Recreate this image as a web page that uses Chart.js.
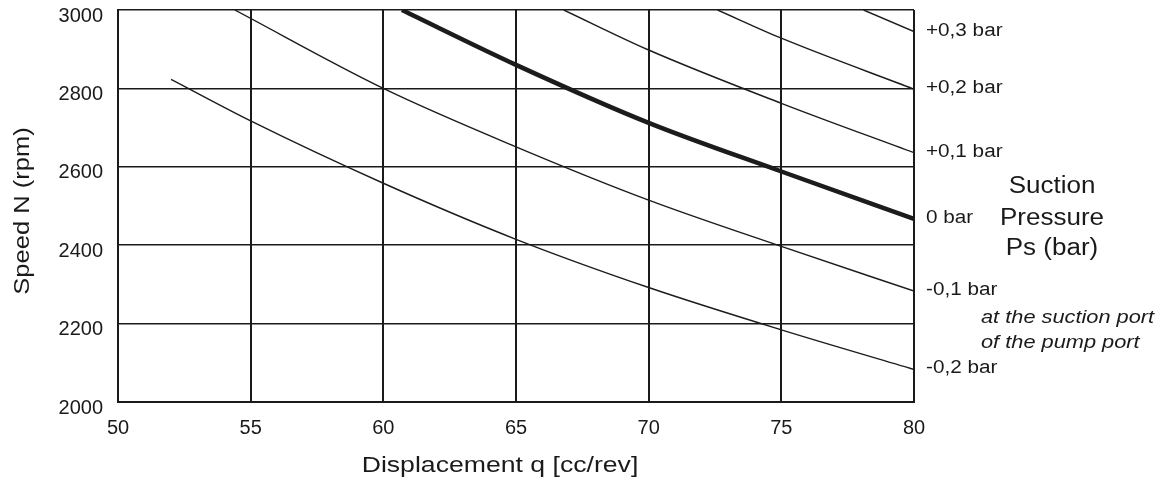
<!DOCTYPE html>
<html>
<head>
<meta charset="utf-8">
<script src="https://cdn.jsdelivr.net/npm/chart.js@4"></script>
<style>
  body { margin: 0; background: #fff; }
  #wrap { width: 1162px; height: 484px; position: relative; }
</style>
</head>
<body>
<div id="wrap"><canvas id="speed_chart"></canvas></div>
<script>
// Speed N vs displacement q, one curve per suction pressure

const ctx_speed = document.getElementById("speed_chart").getContext("2d");

const xMin = 50, xMax = 80, xStep = 5;
const yMin = 2000, yMax = 3000, yStep = 200;

const pressureLabels = ['-0,2 bar', '-0,1 bar', '0 bar', '+0,1 bar', '+0,2 bar', '+0,3 bar'];

const qM02 = [52.0, 55, 60, 65, 70, 75, 80];
const nM02 = [2823, 2717, 2558, 2415, 2292, 2184, 2083];
const qM01 = [54.4, 60, 65, 70, 75, 80];
const nM01 = [3000, 2800, 2651, 2515, 2397, 2283];
const q00  = [60.7, 65, 70, 75, 80];
const n00  = [3000, 2860, 2712, 2588, 2467];
const qP01 = [66.8, 70, 75, 80];
const nP01 = [3000, 2898, 2762, 2636];
const qP02 = [72.6, 75, 80];
const nP02 = [3000, 2928, 2798];
const qP03 = [78.1, 80];
const nP03 = [3000, 2945];

const curveQ = [qM02, qM01, q00, qP01, qP02, qP03];
const curveN = [nM02, nM01, n00, nP01, nP02, nP03];

const FONT = "'Liberation Sans', Arial, Helvetica, sans-serif";
Chart.defaults.font.family = FONT;
Chart.defaults.color = '#1a1a1a';

let datasets = [];
for (let i = 0; i < curveQ.length; i++) {
    datasets.push({
        label: pressureLabels[i],
        data: curveQ[i].map((q, j) => ({ x: q, y: curveN[i][j] })),
        borderColor: '#1c1c1c',
        borderWidth: pressureLabels[i] == '0 bar' ? 4.5 : 1.4,
        pointRadius: 0,
        fill: false,
        cubicInterpolationMode: 'monotone',
    });
}

// stretched text helper (the original lettering is wide)
function wideText(ctx, text, x, y, sx, align) {
    ctx.save();
    ctx.translate(x, y);
    ctx.scale(sx, 1);
    ctx.textAlign = align;
    ctx.fillText(text, 0, 0);
    ctx.restore();
}

const sideText = {
    id: 'sideText',
    afterDraw(chart) {
        const ctx = chart.ctx;
        const area = chart.chartArea;
        const ys = chart.scales.y;
        ctx.save();
        ctx.fillStyle = '#1a1a1a';

        // pressure labels at the end of each curve
        ctx.font = "18px " + FONT;
        ctx.textBaseline = 'middle';
        for (let i = 0; i < curveN.length; i++) {
            let last = curveN[i][curveN[i].length - 1];
            wideText(ctx, pressureLabels[i], area.right + 12, ys.getPixelForValue(last) - 1, 1.15, 'left');
        }

        ctx.font = "23px " + FONT;
        wideText(ctx, 'Suction', 1052, 187, 1.13, 'center');
        wideText(ctx, 'Pressure', 1052, 218.5, 1.13, 'center');
        wideText(ctx, 'Ps (bar)', 1052, 248.5, 1.13, 'center');

        ctx.font = "italic 18px " + FONT;
        wideText(ctx, 'at the suction port', 981, 318, 1.21, 'left');
        wideText(ctx, 'of the pump port', 981, 343, 1.21, 'left');

        // axis titles
        ctx.font = "22px " + FONT;
        ctx.textBaseline = 'alphabetic';
        wideText(ctx, 'Displacement q [cc/rev]', 500, 471.5, 1.21, 'center');

        ctx.save();
        ctx.translate(28.5, 211);
        ctx.rotate(-Math.PI / 2);
        wideText(ctx, 'Speed N (rpm)', 0, 0, 1.16, 'center');
        ctx.restore();

        ctx.restore();
    }
};

let speed_chart = new Chart(ctx_speed, {
    type: 'line',
    data: { datasets: datasets },
    options: {
        responsive: true,
        maintainAspectRatio: false,
        animation: false,
        layout: { padding: { top: 10, right: 248, left: 0, bottom: 0 } },
        plugins: {
            legend: { display: false },
            tooltip: { enabled: false },
        },
        scales: {
            x: {
                type: 'linear',
                min: xMin,
                max: xMax,
                afterFit: function (scale) {
                    scale.height = 82;
                    scale.paddingLeft = 0;
                    scale.paddingRight = 0;
                },
                ticks: {
                    stepSize: xStep,
                    padding: 14,
                    font: { size: 20 },
                    color: '#1a1a1a',
                    callback: function (value) { return String(value); },
                },
                grid: { color: '#1a1a1a', lineWidth: 2, drawTicks: false },
                border: { color: '#1a1a1a', width: 2 },
                title: { display: false },
            },
            y: {
                min: yMin,
                max: yMax,
                afterFit: function (scale) {
                    scale.width = 118;
                    scale.paddingTop = 0;
                    scale.paddingBottom = 0;
                },
                ticks: {
                    stepSize: yStep,
                    padding: 15,
                    labelOffset: 6,
                    font: { size: 20 },
                    color: '#1a1a1a',
                    callback: function (value) { return String(value); },
                },
                grid: { color: '#1a1a1a', lineWidth: 1.5, drawTicks: false },
                border: { color: '#1a1a1a', width: 2 },
                title: { display: false },
            }
        }
    },
    plugins: [sideText]
});
</script>
</body>
</html>
